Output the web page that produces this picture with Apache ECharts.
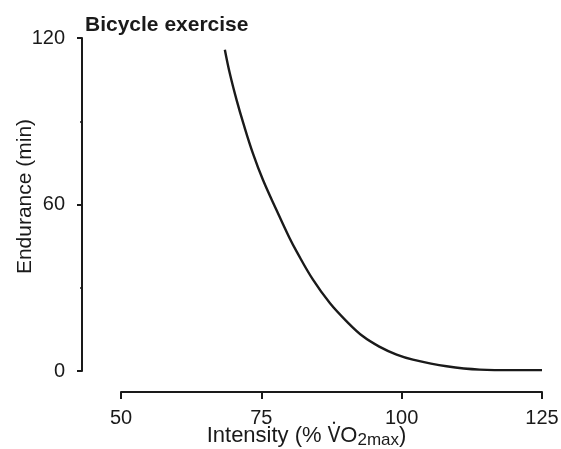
<!DOCTYPE html>
<html>
<head>
<meta charset="utf-8">
<script src="https://cdn.jsdelivr.net/npm/echarts@6/dist/echarts.min.js"></script>
<style>
    html, body { margin: 0; padding: 0; background: #fff; }
    #main_chart { width: 561px; height: 449px; }
</style>
</head>
<body>
<div id="main_chart"></div>
<script>
// 曲线上的读数 (强度 % VO2max, 耐力 min)
var intensity = [68.5, 69.4, 70.6, 71.8, 73.5, 75.3, 77.7, 80.0, 81.3, 84.2, 87.2, 90.2, 93.1, 96.1, 99.1, 102.0, 108.0, 113.9, 119.8, 125.0];
var endurance = [115.8, 107.1, 97.6, 89.2, 78.4, 68.8, 58.0, 48.0, 43.0, 32.9, 24.5, 17.9, 12.5, 8.7, 5.9, 4.1, 1.7, 0.5, 0.3, 0.3];
var xTicks = [50, 75, 100, 125];
var yTicks = [0, 60, 120];

var ink = '#1a1a1a';
var font = '"Liberation Sans", Arial, sans-serif';

var points = [];
for (var i = 0; i < intensity.length; i++) {
    points.push([intensity[i], endurance[i]]);
}

var option = {
    animation: false,
    backgroundColor: '#fff',
    title: {
        text: 'Bicycle exercise',
        left: 80,
        top: 10,
        textStyle: {
            fontFamily: font,
            fontSize: 21,
            fontWeight: 'bold',
            color: ink
        }
    },
    grid: {
        left: 121,
        right: 19,
        top: 38,
        bottom: 78,
        outerBoundsMode: 'none'
    },
    xAxis: {
        type: 'value',
        min: xTicks[0],
        max: xTicks[xTicks.length - 1],
        interval: 25,
        offset: 21,
        name: 'Intensity (% {v|V\u0307}O{sub|2max})',
        nameLocation: 'middle',
        nameMoveOverlap: false,
        nameGap: 31,
        nameTextStyle: {
            fontFamily: font,
            fontSize: 22,
            color: ink,
            padding: [0, 50, 0, 0],
            rich: {
                v: { fontFamily: '"Noto Sans"', fontSize: 21, color: ink },
                sub: { fontFamily: font, fontSize: 17, color: ink, verticalAlign: 'bottom', padding: [9, 0, 0, 0] }
            }
        },
        axisLine: { show: true, onZero: false, lineStyle: { color: ink, width: 2 } },
        axisTick: { show: true, inside: false, length: 7, lineStyle: { color: ink, width: 2 } },
        axisLabel: {
            margin: 16,
            fontFamily: font,
            fontSize: 20,
            color: ink
        },
        splitLine: { show: false }
    },
    yAxis: {
        type: 'value',
        min: yTicks[0],
        max: yTicks[yTicks.length - 1],
        interval: 60,
        offset: 39,
        name: 'Endurance (min)',
        nameLocation: 'middle',
        nameMoveOverlap: false,
        nameGap: 46,
        nameTextStyle: {
            fontFamily: font,
            fontSize: 21,
            color: ink,
            padding: [0, 0, 0, 16]
        },
        axisLine: { show: true, onZero: false, lineStyle: { color: ink, width: 2 } },
        axisTick: { show: true, inside: false, length: 5, lineStyle: { color: ink, width: 2 } },
        minorTick: { show: true, splitNumber: 2, length: 2, lineStyle: { color: ink, width: 1.5 } },
        axisLabel: {
            margin: 17,
            fontFamily: font,
            fontSize: 20,
            color: ink
        },
        splitLine: { show: false }
    },
    series: [{
        type: 'line',
        data: points,
        smooth: 0.4,
        symbol: 'none',
        lineStyle: { color: ink, width: 2.4 }
    }]
};

echarts.init(document.getElementById('main_chart')).setOption(option);
</script>
</body>
</html>
